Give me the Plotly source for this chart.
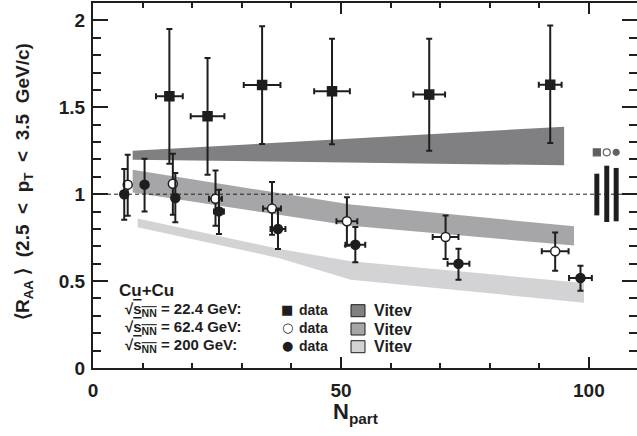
import plotly.graph_objects as go

# ---------------- data ----------------
# sqrt(sNN)=22.4 GeV (filled squares)
npart_22 = [15.4, 23.1, 34.1, 48.2, 67.8, 92.2]
raa_22 = [1.563, 1.448, 1.628, 1.592, 1.573, 1.630]
raa_22_hi = [1.950, 1.784, 1.966, 1.895, 1.895, 1.970]
raa_22_lo = [1.175, 1.112, 1.289, 1.287, 1.250, 1.295]
npart_22_err = [2.7, 3.4, 3.7, 3.6, 3.2, 2.3]

# sqrt(sNN)=62.4 GeV (open circles)
npart_62 = [7.0, 16.1, 24.7, 36.1, 51.2, 71.1, 93.2]
raa_62 = [1.055, 1.060, 0.974, 0.917, 0.844, 0.754, 0.671]
raa_62_hi = [1.227, 1.233, 1.137, 1.070, 0.982, 0.878, 0.780]
raa_62_lo = [0.876, 0.882, 0.819, 0.767, 0.704, 0.627, 0.560]
npart_62_err = [0.5, 0.5, 1.3, 1.8, 2.1, 2.6, 2.7]

# sqrt(sNN)=200 GeV (filled circles)
npart_200 = [6.3, 10.4, 16.6, 25.4, 37.3, 52.9, 73.7, 98.3]
raa_200 = [1.000, 1.055, 0.978, 0.901, 0.800, 0.709, 0.600, 0.518]
raa_200_hi = [1.145, 1.204, 1.122, 1.026, 0.911, 0.811, 0.686, 0.589]
raa_200_lo = [0.853, 0.901, 0.838, 0.771, 0.685, 0.608, 0.508, 0.445]
npart_200_err = [0.5, 0.5, 0.5, 1.0, 1.5, 2.0, 2.2, 2.3]

# Vitev theory bands
vitev_22_x = [8.0, 95.0]
vitev_22_top = [1.250, 1.388]
vitev_22_bot = [1.198, 1.166]

vitev_62_x = [8.0, 52.0, 97.0]
vitev_62_top = [1.141, 0.940, 0.815]
vitev_62_bot = [1.010, 0.818, 0.705]

vitev_200_x = [9.0, 37.6, 52.0, 99.0]
vitev_200_top = [0.860, 0.685, 0.614, 0.489]
vitev_200_bot = [0.810, 0.632, 0.508, 0.376]

# normalisation (systematic) uncertainty boxes on the right
sys_x = [101.6, 103.6, 105.5]
sys_lo = [0.878, 0.840, 0.844]
sys_hi = [1.118, 1.164, 1.151]
sys_marker_y = [1.241, 1.241, 1.241]
sys_symbols = ["square", "circle", "circle"]

# unity reference line
unity_x = [0, 109.7]
unity_y = [1, 1]

x_range = [0, 109.7]
y_range = [0, 2.1]
x_tickvals = [0, 50, 100]
x_ticktext = ["0", "50", "100"]
y_tickvals = [0, 0.5, 1, 1.5, 2]
y_ticktext = ["0", "0.5", "1", "1.5", "2"]

# ---------------- style ----------------
W, H = 637, 436
ML, MR, MT, MB = 93, 0, 3, 68
INK = "#1e1e1e"
C_DARK = "#808083"
C_MED = "#a6a6a9"
C_LIGHT = "#d3d3d5"
FONT = "Liberation Sans, Arial, Helvetica, sans-serif"

fig = go.Figure()


def band(xs, top, bot, color):
    fig.add_trace(go.Scatter(
        x=list(xs) + list(xs)[::-1],
        y=list(top) + list(bot)[::-1],
        mode="lines", fill="toself", fillcolor=color,
        line=dict(width=0, color=color), hoverinfo="skip", showlegend=False))


band(vitev_22_x, vitev_22_top, vitev_22_bot, C_DARK)
band(vitev_62_x, vitev_62_top, vitev_62_bot, C_MED)
band(vitev_200_x, vitev_200_top, vitev_200_bot, C_LIGHT)

# dashed line at unity
fig.add_trace(go.Scatter(x=unity_x, y=unity_y, mode="lines",
                         line=dict(color=INK, width=1, dash="4px,3px"),
                         hoverinfo="skip", showlegend=False))

# systematic bars
fig.add_trace(go.Bar(
    x=sys_x, y=[h - l for h, l in zip(sys_hi, sys_lo)], base=sys_lo,
    width=1.0, marker=dict(color=INK, line=dict(width=0)),
    showlegend=False, hoverinfo="skip"))
fig.add_trace(go.Scatter(
    x=sys_x, y=sys_marker_y, mode="markers",
    marker=dict(symbol=sys_symbols, size=[7, 7, 6],
                color=[INK, "white", INK], line=dict(color=INK, width=1.2)),
    showlegend=False, hoverinfo="skip"))


def data(xs, ys, hi, lo, xerr, symbol, size, fill):
    fig.add_trace(go.Scatter(
        x=xs, y=ys, mode="markers",
        marker=dict(symbol=symbol, size=size, color=fill,
                    line=dict(color=INK, width=1.5)),
        error_y=dict(type="data", symmetric=False,
                     array=[h - y for h, y in zip(hi, ys)],
                     arrayminus=[y - l for y, l in zip(ys, lo)],
                     color=INK, thickness=2, width=3),
        error_x=dict(type="data", array=xerr, color=INK, thickness=2, width=3),
        showlegend=False, hoverinfo="skip"))


data(npart_22, raa_22, raa_22_hi, raa_22_lo, npart_22_err, "square", 9, INK)
data(npart_62, raa_62, raa_62_hi, raa_62_lo, npart_62_err, "circle", 9, "white")
data(npart_200, raa_200, raa_200_hi, raa_200_lo, npart_200_err, "circle", 9, INK)

plot_w = W - ML - MR
plot_h = H - MT - MB


def px(x):
    return (x - ML) / plot_w


def py(y):
    return (H - MB - y) / plot_h


def note(text, x, y, size, xanchor="left", yanchor="middle", family=FONT, angle=0):
    fig.add_annotation(text=text, xref="paper", yref="paper", x=px(x), y=py(y),
                       xanchor=xanchor, yanchor=yanchor, showarrow=False,
                       textangle=angle,
                       font=dict(family=family, size=size, color=INK, weight="bold"))


S = " \u00a0"  # wide gap as in the original typesetting
ytitle = ("⟨R<sub>AA</sub> ⟩" + S + "(2.5" + S + "&lt;" + S + "p<sub>T</sub>" + S
          + "&lt;" + S + "3.5" + S + "GeV/c)")
note(ytitle, 24, 182, 19, xanchor="center", angle=-90)
note("N<sub>part</sub>", 355, 413, 22, xanchor="center")

# legend block
note("Cu+Cu", 117, 290, 17)
rows = [309, 327, 345]
energies = ["22.4", "62.4", "200"]
for r, e in zip(rows, energies):
    note("√<span style='text-decoration:overline'>s<sub>NN</sub></span> = %s GeV:" % e,
         123, r, 15)
glyphs = ["■", "○", "●"]
for r, g in zip(rows, glyphs):
    note(g, 287, r, 13, xanchor="center", family="DejaVu Sans")
    note("data", 297, r + 1, 14)
for r, c in zip([310.7, 329, 346.7], [C_DARK, C_MED, C_LIGHT]):
    fig.add_shape(type="rect", xref="paper", yref="paper",
                  x0=px(351), x1=px(365), y0=py(r + 6), y1=py(r - 6),
                  fillcolor=c, line=dict(color=INK, width=1))
    note("Vitev", 372, r, 16)

axis_common = dict(showline=True, linecolor=INK, linewidth=2, mirror="ticks",
                   ticks="inside", tickcolor=INK, tickwidth=1.5,
                   showgrid=False, zeroline=False,
                   tickfont=dict(family=FONT, size=19, color=INK, weight="bold"))

fig.update_layout(
    width=W, height=H,
    margin=dict(l=ML, r=MR, t=MT, b=MB, autoexpand=False),
    paper_bgcolor="white", plot_bgcolor="white",
    showlegend=False, barmode="overlay",
    xaxis=dict(range=x_range, tickvals=x_tickvals, ticktext=x_ticktext,
               ticklen=11, ticklabelstandoff=4,
               minor=dict(dtick=10, tick0=0, ticklen=5, ticks="inside",
                          tickcolor=INK, tickwidth=1.5),
               **axis_common),
    yaxis=dict(range=y_range, tickvals=y_tickvals, ticktext=y_ticktext,
               ticklen=15, ticklabelstandoff=2,
               minor=dict(dtick=0.1, tick0=0, ticklen=8, ticks="inside",
                          tickcolor=INK, tickwidth=1.5),
               **axis_common),
)

fig.write_html("out.html", config={"displayModeBar": False},
               post_script="document.body.style.margin='0px';document.body.style.overflow='hidden';")
